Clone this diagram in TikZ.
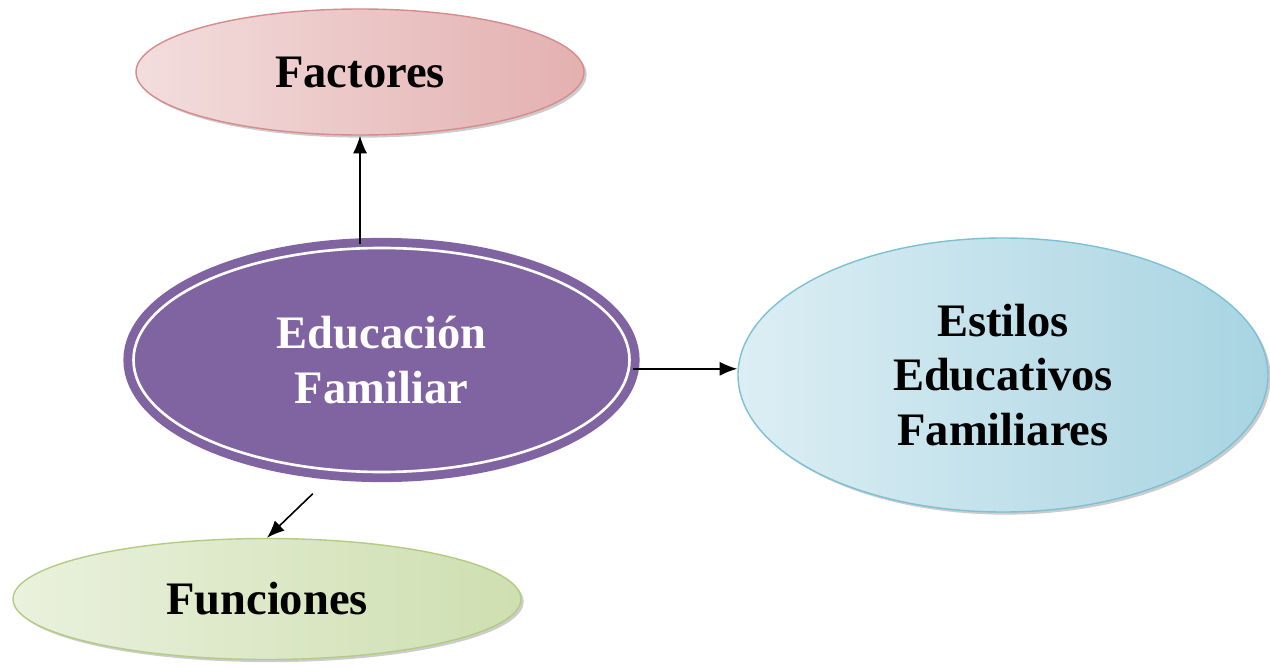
\documentclass[tikz,border=0pt]{standalone}
\usepackage{fontspec}
\setmainfont{Liberation Serif}
\usetikzlibrary{%
    arrows.meta,
    positioning,
    shadows,
    shapes.geometric
}
\definecolor{factoresline}{RGB}{214,140,140}
\definecolor{factoresfill}{RGB}{243,221,221}
\definecolor{factoresdark}{RGB}{228,176,176}
\definecolor{familiarfill}{RGB}{128,100,162}
\definecolor{estilosline}{RGB}{125,192,212}
\definecolor{estilosfill}{RGB}{220,238,244}
\definecolor{estilosdark}{RGB}{168,212,226}
\definecolor{funcionesline}{RGB}{178,204,130}
\definecolor{funcionesfill}{RGB}{234,241,221}
\definecolor{funcionesdark}{RGB}{206,223,176}
\tikzset{linkarrow/.style = {-{Latex[length=10pt,width=8pt]}, line width=.9pt}}
\tikzset{bubble/.style = {ellipse, inner sep=0pt, align=center,
    font=\fontsize{26.5}{31}\selectfont\bfseries,
    drop shadow={shadow xshift=1.5pt, shadow yshift=-1.5pt, fill=black!40, opacity=.5}}}

\begin{document}
\begin{tikzpicture}
    \useasboundingbox (0,0) rectangle (25.4,-13.34);

    \node[ellipse, inner sep=0pt, align=center, text=white,
          font=\fontsize{26.5}{31}\selectfont\bfseries,
          fill=familiarfill, draw=familiarfill, line width=5pt,
          double=white, double distance=1.5pt,
          minimum width=9.92cm, minimum height=4.48cm]
        (educacion) at (7.63,-7.2) {Educación\\Familiar};
    \node[bubble, draw=factoresline, line width=.8pt,
          left color=factoresfill, middle color=factoresfill, right color=factoresdark,
          minimum width=8.96cm, minimum height=2.52cm]
        (factores) at (7.2,-1.44) {Factores};
    \node[bubble, draw=estilosline, line width=.8pt,
          left color=estilosfill, middle color=estilosfill, right color=estilosdark,
          minimum width=10.6cm, minimum height=5.48cm]
        (estilos) at (20.06,-7.5) {Estilos\\Educativos\\Familiares};
    \node[bubble, draw=funcionesline, line width=.8pt,
          left color=funcionesfill, middle color=funcionesfill, right color=funcionesdark,
          minimum width=10.16cm, minimum height=2.42cm]
        (funciones) at (5.34,-11.98) {Funciones};

    \draw[linkarrow] (educacion.north -| factores.south) -- (factores.south);
    \draw[linkarrow] (educacion.-2) -- (educacion.-2 -| estilos.west);
    \draw[linkarrow, shorten <=16pt] (educacion.247) -- (funciones.north);
\end{tikzpicture}
\end{document}
